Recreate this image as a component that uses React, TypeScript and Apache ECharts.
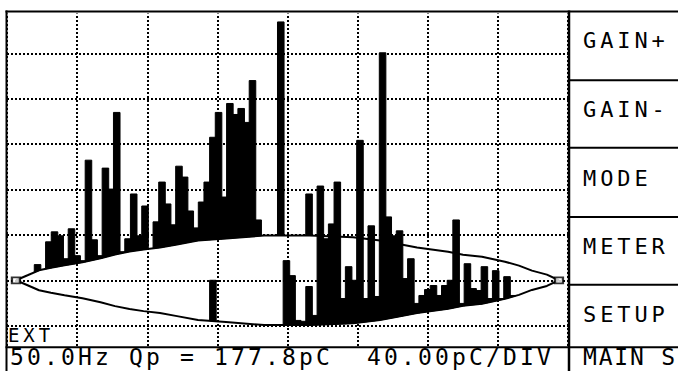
import React, { useEffect, useRef } from "react";
import * as echarts from "echarts";

// ---- scale ----
const X_DIVISIONS = 8;
const Y_MIN = -80; // pC
const Y_MAX = 240; // pC
const PC_PER_DIV = 40;
const BIN_DEG = 3.75; // 96 phase windows over 360°
const BIN_OFFSET = 0.5;
const BIN_OVERLAP = 0.3;
const PHASE_MIN = -6.63;
const PHASE_MAX = 365.3;

// ---- reference sine envelope (phase °, pC) ----
const envPhase = [-0.7, 7, 14.6, 22.5, 31.5, 43.4, 55.4, 65, 74.6, 83.9, 94.8, 106.1, 120, 138.6, 163.8, 179.3, 194.3, 222.8, 240.7, 251.3, 265.2, 285.8, 295.7, 308.3, 323.5, 332.8, 341.4, 351.3, 359.3];
const envPC = [0, 4.4, 8.8, 11, 13.2, 15.8, 19.3, 22.8, 25.4, 27.2, 28.9, 31.6, 35.1, 36.8, 39.5, 39.5, 39.5, 38, 35.1, 32.5, 28.9, 25.2, 22.5, 20.8, 16.4, 12.9, 8.5, 5, 0];

// ---- pulses standing on the upper curve (bin, top pC) ----
const upperBins = [3, 5, 6, 7, 8, 9, 10, 11, 12, 13, 14, 15, 16, 17, 18, 19, 20, 21, 22, 24, 25, 26, 27, 28, 29, 30, 31, 32, 33, 34, 35, 36, 37, 38, 39, 40, 41, 42, 46, 51];
const upperTops = [13.8, 33.9, 42.7, 39.2, 19.0, 45.4, 21.7, 17.3, 105.9, 35.7, 21.7, 98.9, 80.4, 148.0, 25.2, 36.6, 76.1, 39.2, 65.5, 51.5, 86.6, 67.3, 48.9, 100.6, 91.0, 61.1, 46.2, 69.0, 86.6, 126.1, 148.0, 73.4, 155.9, 146.2, 151.5, 139.2, 176.1, 53.2, 227.8, 76.1];

// ---- pulses standing on the lower curve (bin, top pC) ----
const lowerBins = [34, 47, 48, 49, 50, 51, 52, 53, 54, 55, 56, 57, 58, 59, 60, 61, 62, 63, 64, 65, 66, 67, 68, 69, 70, 71, 72, 73, 74, 75, 76, 77, 78, 79, 80, 81, 82, 83, 84, 85, 86, 87];
const lowerTops = [0, 17.3, 4.1, -35.4, -36.2, -5.5, -31.0, 83.1, 36.6, 49.7, 86.6, -16.1, 12.0, 0, 123.4, -16.1, 48.0, -14.3, 200.6, 55.9, 39.2, 43.6, 1.5, 19.0, -20.4, -13.4, -8.2, -4.6, -13.4, -4.6, 0, 53.2, -20.4, 14.6, -7.3, -9.0, 12.0, -16.1, 8.5, -16.1, 3.2, -13.4];

// ---- texts ----
const buttonLabels = ["GAIN+", "GAIN-", "MODE", "METER", "SETUP"];
const statusFreq = "50.0Hz";
const statusQp = "Qp = 177.8pC";
const statusScale = "40.00pC/DIV";
const footerButton = "MAIN S";
const extLabel = "EXT";

const FONT = '"DejaVu Sans Mono", monospace';

function envAt(p: number): number {
  if (p <= envPhase[0]) return 0;
  const n = envPhase.length;
  if (p >= envPhase[n - 1]) return 0;
  for (let i = 0; i < n - 1; i++) {
    if (p >= envPhase[i] && p <= envPhase[i + 1]) {
      const t = (p - envPhase[i]) / (envPhase[i + 1] - envPhase[i]);
      return envPC[i] + t * (envPC[i + 1] - envPC[i]);
    }
  }
  return 0;
}

export default function App() {
  const ref = useRef<HTMLDivElement>(null);

  useEffect(() => {
    if (!ref.current) return;
    const el = ref.current;
    const chart = echarts.init(el, null, { renderer: "svg" });

    const barData: number[][] = [];
    upperBins.forEach((b, i) => barData.push([b, upperTops[i], 1]));
    lowerBins.forEach((b, i) => barData.push([b, lowerTops[i], -1]));

    const dotted = { color: "#000", width: 2, type: [2, 2] as any };

    const spacing: Record<string, number> = {};
    const texts: any[] = [];
    const btnCenters = [40.5, 109.5, 178, 246.5, 314.5];
    const textStyle = (t: string, size: number) => ({
      text: t, fill: "#000", fontSize: size, fontFamily: FONT,
      align: "left", verticalAlign: "middle", textAlign: "left", textVerticalAlign: "middle",
    });
    buttonLabels.forEach((t, i) => {
      spacing[t] = 3.9;
      texts.push({ type: "text", x: 583, y: btnCenters[i], z: 120, style: textStyle(t, 22) });
    });
    const statusItems: [string, number][] = [[statusFreq, 10], [statusQp, 129], [statusScale, 367]];
    statusItems.forEach(([t, x]) => {
      spacing[t] = 3.15;
      texts.push({ type: "text", x, y: 357.3, z: 120, style: textStyle(t, 23) });
    });
    spacing[footerButton] = 1.8;
    texts.push({ type: "text", x: 583, y: 357.3, z: 120, style: textStyle(footerButton, 23) });
    spacing[extLabel] = 3.9;
    texts.push({ type: "text", x: 8, y: 335, z: 120, style: textStyle(extLabel, 19) });

    const line = (x1: number, y1: number, x2: number, y2: number, w: number) => ({
      type: "line", z: 110, shape: { x1, y1, x2, y2 }, style: { stroke: "#000", lineWidth: w },
    });

    const option: any = {
      animation: false,
      backgroundColor: "#fff",
      grid: { left: 7, top: 8.1, width: 561, height: 364.8, show: false },
      xAxis: [
        {
          type: "value", min: 0, max: X_DIVISIONS, interval: 1,
          axisLine: { show: false }, axisTick: { show: false }, axisLabel: { show: false },
          splitLine: { show: true, lineStyle: dotted },
        },
        { type: "value", min: PHASE_MIN, max: PHASE_MAX, show: false, splitLine: { show: false } },
      ],
      yAxis: {
        type: "value", min: Y_MIN, max: Y_MAX, interval: PC_PER_DIV,
        axisLine: { show: false }, axisTick: { show: false }, axisLabel: { show: false },
        splitLine: { show: true, lineStyle: dotted },
      },
      series: [
        {
          type: "custom",
          xAxisIndex: 1,
          yAxisIndex: 0,
          z: 3,
          silent: true,
          data: barData,
          renderItem: (params: any, api: any) => {
            const bin = api.value(0);
            const top = api.value(1);
            const side = api.value(2);
            const p0 = bin * BIN_DEG + BIN_OFFSET - BIN_OVERLAP;
            const p1 = bin * BIN_DEG + BIN_OFFSET + BIN_DEG + BIN_OVERLAP;
            const b0 = side * envAt(p0);
            const b1 = side * envAt(p1);
            const pts = [api.coord([p0, top]), api.coord([p1, top]), api.coord([p1, b1]), api.coord([p0, b0])];
            return {
              type: "polygon",
              shape: { points: pts },
              style: { fill: "#000", stroke: "#000", lineWidth: 1 },
            };
          },
        },
        {
          type: "line", xAxisIndex: 1, z: 5, showSymbol: false, silent: true,
          data: envPhase.map((p, i) => [p, envPC[i]]),
          lineStyle: { color: "#000", width: 2 },
        },
        {
          type: "line", xAxisIndex: 1, z: 5, showSymbol: false, silent: true,
          data: envPhase.map((p, i) => [p, -envPC[i]]),
          lineStyle: { color: "#000", width: 2 },
        },
        {
          type: "scatter", xAxisIndex: 1, z: 6, silent: true,
          symbol: "rect", symbolSize: [8, 6],
          data: [[envPhase[0], 0], [envPhase[envPhase.length - 1], 0]],
          itemStyle: { color: "#fff", borderColor: "#000", borderWidth: 2 },
        },
      ],
      graphic: [
        { type: "rect", z: 100, shape: { x: 0, y: 0, width: 678, height: 13.5 }, style: { fill: "#fff" } },
        { type: "rect", z: 100, shape: { x: 0, y: 346, width: 678, height: 25 }, style: { fill: "#fff" } },
        line(5.5, 11.5, 678, 11.5, 2),
        line(6.5, 10.5, 6.5, 371, 2),
        line(569, 10.5, 569, 371, 2.5),
        line(5.5, 347.3, 678, 347.3, 2),
        line(569, 80.3, 678, 80.3, 2),
        line(569, 147.8, 678, 147.8, 2),
        line(569, 217, 678, 217, 2),
        line(569, 284.7, 678, 284.7, 2),
        ...texts,
      ],
    };

    chart.setOption(option);

    const applySpacing = () => {
      el.querySelectorAll("text").forEach((t) => {
        const s = t.textContent || "";
        if (spacing[s] != null) t.setAttribute("letter-spacing", String(spacing[s]));
      });
    };
    applySpacing();
    chart.on("finished", applySpacing);
    const timer = setTimeout(applySpacing, 30);

    return () => {
      clearTimeout(timer);
      chart.dispose();
    };
  }, []);

  return (
    <div
      ref={ref}
      style={{ position: "fixed", left: 0, top: 0, width: 678, height: 371, background: "#fff" }}
    />
  );
}
